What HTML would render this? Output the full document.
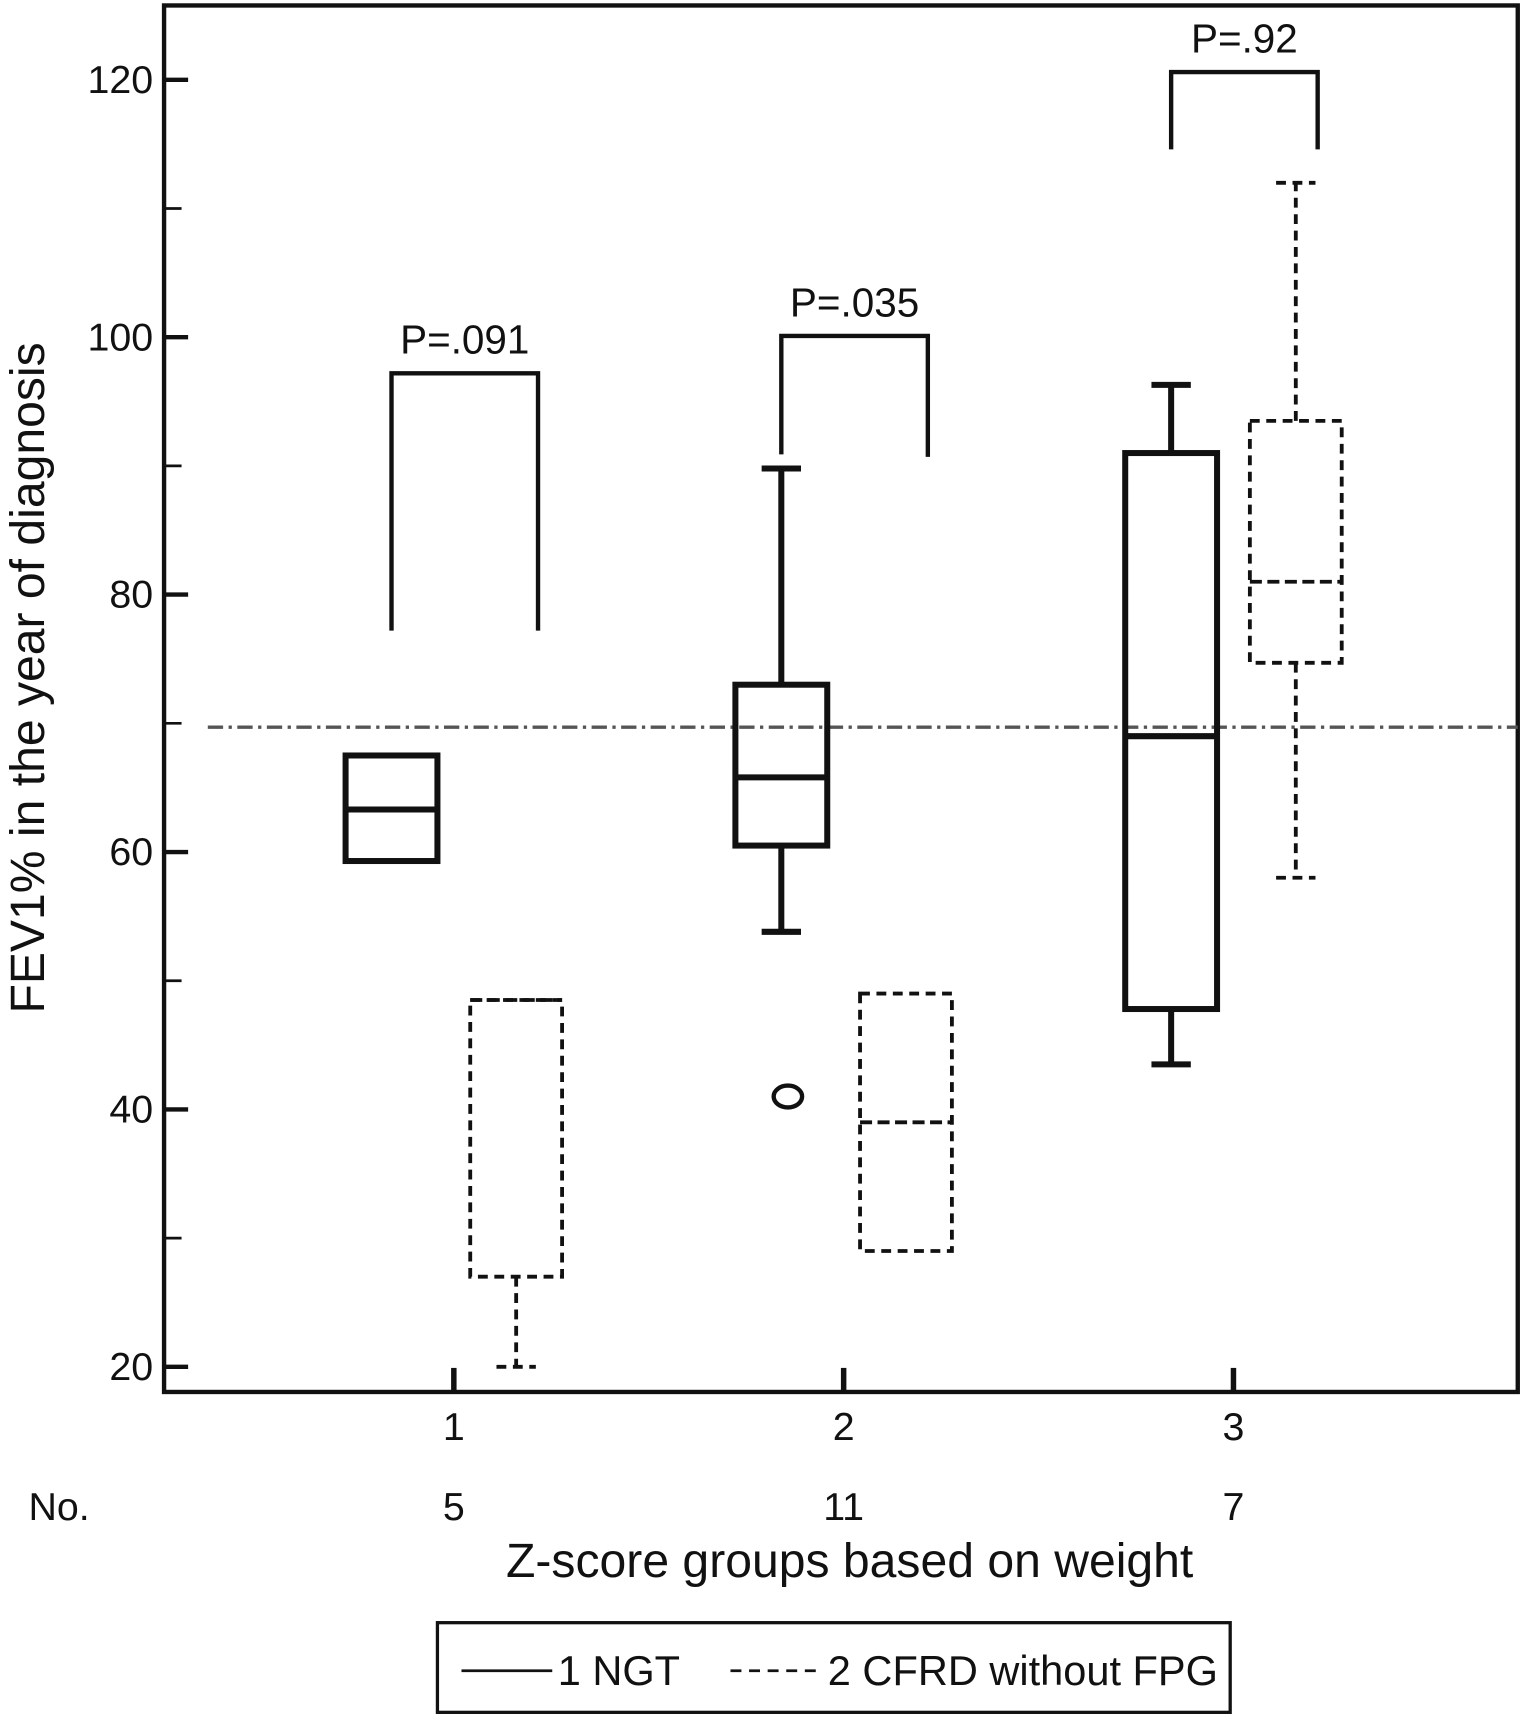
<!DOCTYPE html>
<html><head><meta charset="utf-8"><style>
html,body{margin:0;padding:0;background:#fff}
svg{display:block}
text{font-family:"Liberation Sans",Arial,sans-serif;fill:#111}
</style></head><body>
<svg id="chart" width="1520" height="1720" viewBox="0 0 1390 1573" xmlns="http://www.w3.org/2000/svg">
<g id="plot"></g>
</svg>
<script>
const categories = ["1","2","3"];
const counts = ["5","11","7"];
const yTicks = [20,40,60,80,100,120];
const yMinorTicks = [30,50,70,90,110];
// box stats [min, q1, median, q3, max]
const ngtMin = [59.3, 53.8, 43.5];
const ngtQ1 = [59.3, 60.5, 47.8];
const ngtMed = [63.3, 65.8, 69.0];
const ngtQ3 = [67.5, 73.0, 91.0];
const ngtMax = [67.5, 89.8, 96.3];
const cfrdMin = [20.0, 29.0, 58.0];
const cfrdQ1 = [27.0, 29.0, 74.7];
const cfrdMed = [48.5, 39.0, 81.0];
const cfrdQ3 = [48.5, 49.0, 93.5];
const cfrdMax = [48.5, 49.0, 112.0];
const ngtOutliers = [[2, 41.0]];
const refLine = 69.7;
const pLabels = ["P=.091","P=.035","P=.92"];
const pTop = [97.2, 100.1, 120.6];
const pLegLeft = [77.2, 90.9, 114.6];
const pLegRight = [77.2, 90.7, 114.6];

const NS = "http://www.w3.org/2000/svg";
const g = document.getElementById("plot");
const L=150, R=1388, T=5, B=1273;
const y = v => 73 + (120 - v) * 11.77;
const x = c => 415 + (c - 1) * 356.5;
const OFF_N = -57, OFF_C = 57, BW = 84;
function mk(tag, attrs){const e=document.createElementNS(NS,tag);for(const k in attrs)e.setAttribute(k,attrs[k]);g.appendChild(e);return e;}

const fr = mk("rect",{x:L,y:T,width:R-L,height:B-T,fill:"none",stroke:"#111","stroke-width":4});



yTicks.forEach(v=>{
  const t = mk("line",{x1:L,x2:L+22,y1:y(v),y2:y(v),stroke:"#111","stroke-width":4});
  
  
  const lb = mk("text",{x:L-10,y:y(v)+12,"text-anchor":"end","font-size":36});
  lb.textContent = v;
  
  
});
yMinorTicks.forEach(v=>{
  const t = mk("line",{x1:L,x2:L+16,y1:y(v),y2:y(v),stroke:"#111","stroke-width":2.5});
  
  
});
categories.forEach((c,i)=>{
  const cx = x(i+1);
  const t = mk("line",{x1:cx,x2:cx,y1:B,y2:B-22,stroke:"#111","stroke-width":5});
  
  
  const lb = mk("text",{x:cx,y:1317,"text-anchor":"middle","font-size":36});
  lb.textContent = c;
  
  
  const n = mk("text",{x:cx,y:1390,"text-anchor":"middle","font-size":36});
  n.textContent = counts[i];
  
  
});

const rl = mk("line",{x1:L+40,x2:R,y1:y(refLine),y2:y(refLine),stroke:"#555","stroke-width":3,"stroke-dasharray":"14 5 3 5"});



function box(i, mn,q1,md,q3,mx, off, dashed, name){
  const cx = x(i+1)+off, sw = dashed?3.5:5.5, da = dashed?"9 6":"none";
  const st = {stroke:"#111","stroke-width":sw,fill:"none","stroke-dasharray":da};
  const grp = document.createElementNS(NS,"g");
  g.appendChild(grp);
  
  
  const add=(tag,a)=>{const at=Object.assign({},st,a);const e=document.createElementNS(NS,tag);for(const k in at)e.setAttribute(k,at[k]);grp.appendChild(e);return e;};
  add("rect",{x:cx-BW/2,y:y(q3),width:BW,height:y(q1)-y(q3)});
  add("line",{x1:cx-BW/2,x2:cx+BW/2,y1:y(md),y2:y(md),"stroke-dasharray":dashed?"11 5":"none"});
  if(mx>q3){add("line",{x1:cx,x2:cx,y1:y(q3),y2:y(mx)});add("line",{x1:cx-18,x2:cx+18,y1:y(mx),y2:y(mx)});}
  if(mn<q1){add("line",{x1:cx,x2:cx,y1:y(q1),y2:y(mn)});add("line",{x1:cx-18,x2:cx+18,y1:y(mn),y2:y(mn)});}
}
categories.forEach((c,i)=>{
  box(i,ngtMin[i],ngtQ1[i],ngtMed[i],ngtQ3[i],ngtMax[i],OFF_N,false,"ngt-box-group-"+c);
  box(i,cfrdMin[i],cfrdQ1[i],cfrdMed[i],cfrdQ3[i],cfrdMax[i],OFF_C,true,"cfrd-box-group-"+c);
  const x1 = x(i+1)+OFF_N, x2 = x(i+1)+OFF_C+20;
  const br = mk("path",{d:`M${x1},${y(pLegLeft[i])} V${y(pTop[i])} H${x2} V${y(pLegRight[i])}`,fill:"none",stroke:"#111","stroke-width":4});
  
  
  const pt = mk("text",{x:(x1+x2)/2,y:y(pTop[i])-18,"text-anchor":"middle","font-size":37});
  pt.textContent = pLabels[i];
  
  
});
ngtOutliers.forEach(o=>{
  const e = mk("ellipse",{cx:x(o[0])+OFF_N+6,cy:y(o[1]),rx:13,ry:10,fill:"none",stroke:"#111","stroke-width":4});
  
  
});

const yt = mk("text",{x:0,y:0,"text-anchor":"middle","font-size":44,transform:"translate(40,620) rotate(-90)"});
yt.textContent = "FEV1% in the year of diagnosis";


const no = mk("text",{x:26,y:1390,"font-size":36});
no.textContent = "No.";


const xt = mk("text",{x:777,y:1442,"text-anchor":"middle","font-size":44});
xt.textContent = "Z-score groups based on weight";



const lg = mk("rect",{x:400,y:1484,width:725,height:82,fill:"none",stroke:"#111","stroke-width":3});


const l1 = mk("line",{x1:422,x2:505,y1:1528,y2:1528,stroke:"#111","stroke-width":2.5});


const t1 = mk("text",{x:510,y:1541,"font-size":38});
t1.textContent = "1 NGT";


const l2 = mk("line",{x1:668,x2:750,y1:1528,y2:1528,stroke:"#111","stroke-width":2.5,"stroke-dasharray":"10 7"});


const t2 = mk("text",{x:757,y:1541,"font-size":38});
t2.textContent = "2 CFRD without FPG";


</script>
</body></html>
